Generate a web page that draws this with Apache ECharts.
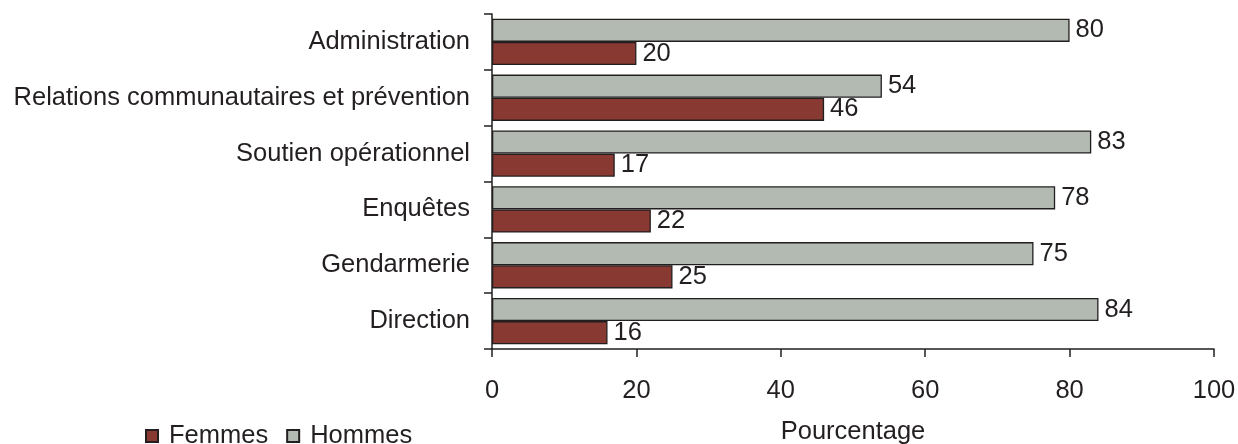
<!DOCTYPE html>
<html>
<head>
<meta charset="utf-8">
<script src="https://cdn.jsdelivr.net/npm/echarts@6/dist/echarts.min.js"></script>
<style>
html,body{margin:0;padding:0;background:#fff;}
#c{width:1238px;height:444px;}
</style>
</head>
<body>
<div id="c"></div>
<script>
// Categories listed top to bottom
const categories = ["Administration", "Relations communautaires et prévention", "Soutien opérationnel", "Enquêtes", "Gendarmerie", "Direction"];
const hommes = [80, 54, 83, 78, 75, 84];
const femmes = [20, 46, 17, 22, 25, 16];
const xTicks = [0, 20, 40, 60, 80, 100];

const FONT = "'Liberation Sans', Arial, sans-serif";
const TXT = "#231F20";
const FS = 25.5;
const chart = echarts.init(document.getElementById('c'), null, {renderer: 'canvas'});
chart.setOption({
  animation: false,
  backgroundColor: '#ffffff',
  textStyle: {fontFamily: FONT, color: TXT},
  legend: {
    data: ['Femmes', 'Hommes'],
    left: 140, top: 418,
    icon: 'rect', itemWidth: 12, itemHeight: 12, itemGap: 18,
    textStyle: {fontFamily: FONT, fontSize: FS, color: TXT, padding: [0,0,0,6]}
  },
  grid: {left: 492, right: 24, top: 14, bottom: 95, containLabel: false, outerBoundsMode: 'none'},
  xAxis: {
    type: 'value', min: xTicks[0], max: xTicks[xTicks.length-1], interval: 20,
    name: 'Pourcentage', nameLocation: 'middle', nameGap: 70,
    nameTextStyle: {fontFamily: FONT, fontSize: FS, color: TXT},
    axisLine: {show: true, lineStyle: {color: TXT, width: 1.5}},
    axisTick: {show: true, length: 8, lineStyle: {color: TXT, width: 1.5}},
    axisLabel: {fontFamily: FONT, fontSize: FS, color: TXT, margin: 29},
    splitLine: {show: false}
  },
  yAxis: {
    type: 'category', data: categories, inverse: true,
    axisLine: {show: true, lineStyle: {color: TXT, width: 1.5}},
    axisTick: {show: true, length: 8, lineStyle: {color: TXT, width: 1.5}},
    axisLabel: {fontFamily: FONT, fontSize: FS, color: TXT, margin: 22, padding: [3,0,0,0]}
  },
  series: [
    {
      name: 'Hommes', type: 'bar', data: hommes,
      barGap: '0%', barCategoryGap: '17%',
      itemStyle: {color: '#B3BAB1', borderColor: TXT, borderWidth: 1.3},
      label: {show: true, position: 'right', distance: 6, fontFamily: FONT, fontSize: FS, color: TXT}
    },
    {
      name: 'Femmes', type: 'bar', data: femmes,
      barGap: '0%', barCategoryGap: '17%',
      itemStyle: {color: '#883931', borderColor: TXT, borderWidth: 1.3},
      label: {show: true, position: 'right', distance: 6, fontFamily: FONT, fontSize: FS, color: TXT}
    }
  ]
});
</script>
</body>
</html>
